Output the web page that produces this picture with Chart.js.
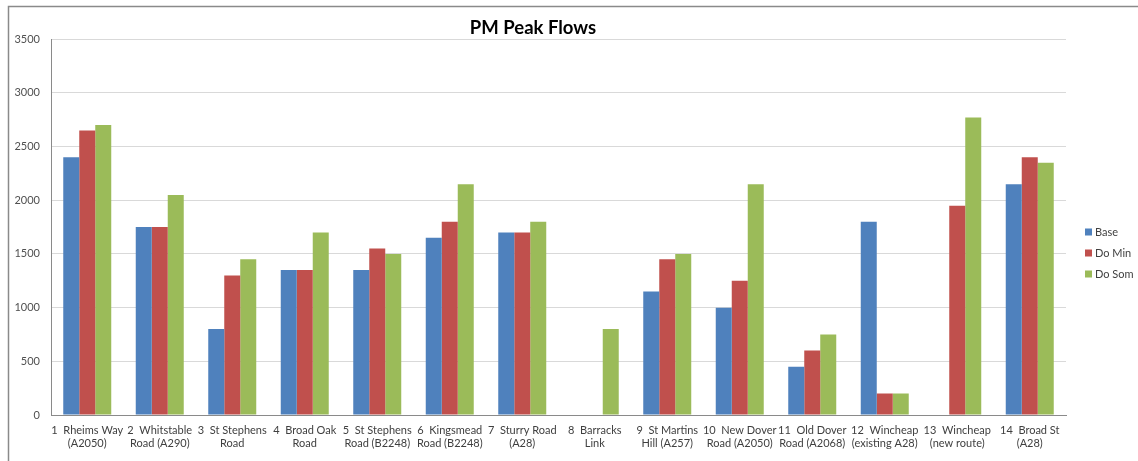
<!DOCTYPE html>
<html>
<head>
<meta charset="utf-8">
<script src="https://cdn.jsdelivr.net/npm/chart.js@4/dist/chart.umd.min.js"></script>
<style>
html,body{margin:0;padding:0;background:#fff;}
#wrap{position:relative;width:1138px;height:461px;}
</style>
</head>
<body>
<div id="wrap"><canvas id="c" width="1138" height="461"></canvas></div>
<script>
const categories = [
  ["1  Rheims Way", "(A2050)"],
  ["2  Whitstable", "Road (A290)"],
  ["3  St Stephens", "Road"],
  ["4  Broad Oak", "Road"],
  ["5  St Stephens", "Road (B2248)"],
  ["6  Kingsmead", "Road (B2248)"],
  ["7  Sturry Road", "(A28)"],
  ["8  Barracks", "Link"],
  ["9  St Martins", "Hill (A257)"],
  ["10  New Dover", "Road (A2050)"],
  ["11  Old Dover", "Road (A2068)"],
  ["12  Wincheap", "(existing A28)"],
  ["13  Wincheap", "(new route)"],
  ["14  Broad St", "(A28)"]
];
const seriesNames = ["Base", "Do Min", "Do Som"];
const baseValues  = [2400, 1750, 800, 1350, 1350, 1650, 1700, null, 1150, 1000, 450, 1800, null, 2150];
const doMinValues = [2650, 1750, 1300, 1350, 1550, 1800, 1700, null, 1450, 1250, 600, 200, 1950, 2400];
const doSomValues = [2700, 2050, 1450, 1700, 1500, 2150, 1800, 800, 1500, 2150, 750, 200, 2770, 2350];
const yTicks = [0, 500, 1000, 1500, 2000, 2500, 3000, 3500];
const title = "PM Peak Flows";

const colors = ["#4F81BD", "#C0504D", "#9BBB59"];
const FONT = "Lato, 'Liberation Sans', sans-serif";

const framePlugin = {
  id: 'frame',
  beforeDraw(chart) {
    const ctx = chart.ctx;
    ctx.save();
    ctx.strokeStyle = '#8a8a8a';
    ctx.lineWidth = 1.5;
    ctx.beginPath();
    ctx.moveTo(8.5, chart.height);
    ctx.lineTo(8.5, 6.5);
    ctx.lineTo(chart.width, 6.5);
    ctx.stroke();
    ctx.restore();
  }
};

const legendPlugin = {
  id: 'customLegend',
  afterDraw(chart) {
    const ctx = chart.ctx;
    ctx.save();
    ctx.font = "11px " + FONT;
    ctx.textBaseline = 'middle';
    const ys = [232, 253, 274];
    chart.data.datasets.forEach((ds, i) => {
      ctx.fillStyle = ds.backgroundColor;
      ctx.fillRect(1085, ys[i] - 3.5, 7, 7);
      ctx.fillStyle = '#404040';
      ctx.fillText(ds.label, 1095, ys[i]);
    });
    ctx.restore();
  }
};

new Chart(document.getElementById('c'), {
  type: 'bar',
  data: {
    labels: categories,
    datasets: [
      { label: seriesNames[0], data: baseValues, backgroundColor: colors[0] },
      { label: seriesNames[1], data: doMinValues, backgroundColor: colors[1] },
      { label: seriesNames[2], data: doSomValues, backgroundColor: colors[2] }
    ]
  },
  options: {
    responsive: false,
    animation: false,
    devicePixelRatio: 1,
    layout: { padding: { left: 0, right: 72, top: 0, bottom: 0 } },
    datasets: { bar: { categoryPercentage: 0.662, barPercentage: 1.0, borderWidth: 0 } },
    plugins: {
      legend: { display: false },
      tooltip: { enabled: false },
      title: {
        display: true,
        text: title,
        color: '#000',
        font: { family: FONT, size: 18.5, weight: 'bold', lineHeight: 1.2 },
        padding: { top: 17, bottom: 0 }
      }
    },
    scales: {
      x: {
        grid: { display: false, drawTicks: false },
        border: { display: true, color: '#8a8a8a', width: 1 },
        ticks: {
          color: '#404040',
          font: { family: FONT, size: 11, lineHeight: 1.2 },
          padding: 9,
          maxRotation: 0,
          autoSkip: false
        },
        afterFit(scale) { scale.height = 46; }
      },
      y: {
        min: 0,
        max: 3500,
        afterBuildTicks(scale) { scale.ticks = yTicks.map(v => ({ value: v })); },
        grid: { color: '#d9d9d9', drawTicks: false, lineWidth: 1 },
        border: { display: true, color: '#8a8a8a', width: 1 },
        ticks: {
          color: '#505050',
          font: { family: FONT, size: 11 },
          padding: 11,
          callback: (v) => String(v)
        },
        afterFit(scale) { scale.width = 51; }
      }
    }
  },
  plugins: [framePlugin, legendPlugin]
});
</script>
</body>
</html>
